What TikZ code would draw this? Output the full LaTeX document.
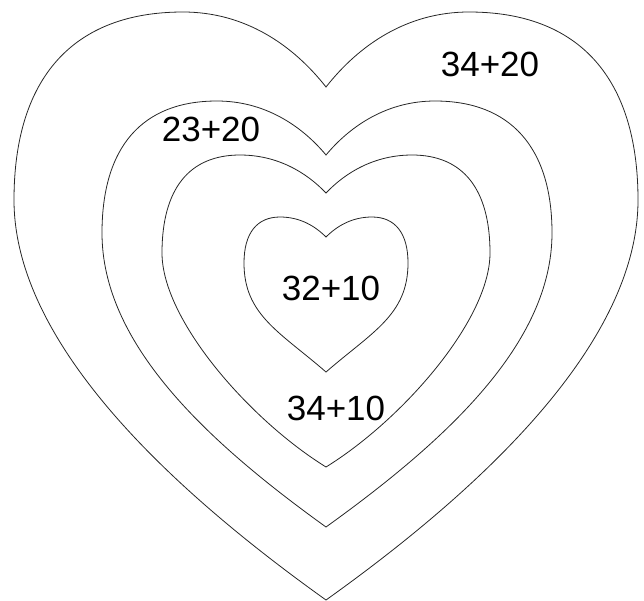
\documentclass[tikz,border=0pt]{standalone}
\usepackage{fontspec}
\setmainfont{Liberation Sans}
\usetikzlibrary{positioning}

\begin{document}
\begin{tikzpicture}[
			x=1pt, y=-1pt,
			heart/.style={draw=black!85, line width=0.8pt},
			sum/.style={font=\fontsize{35}{42}\selectfont, inner sep=0pt}
			]
			\useasboundingbox (0,0) rectangle (644,600);
			
			% hearts, outside in
			\draw[heart] (326,87) .. controls (293,45) and (245,12) .. (183,12) .. controls (73,12) and (14,78) .. (14,200) .. controls (14,350) and (186,500) .. (326,600) .. controls (466,500) and (638,350) .. (638,200) .. controls (638,78) and (579,12) .. (469,12) .. controls (407,12) and (359,45) .. (326,87) -- cycle;
			\draw[heart] (326,155) .. controls (301,125) and (264,101) .. (217,101) .. controls (142,101) and (102,147) .. (102,233) .. controls (102,343) and (205,440) .. (326,527) .. controls (447,440) and (552,343) .. (552,233) .. controls (552,147) and (510,101) .. (435,101) .. controls (388,101) and (351,125) .. (326,155) -- cycle;
			\draw[heart] (326,193) .. controls (306,172) and (277,155) .. (240,155) .. controls (189,155) and (162,189) .. (162,253) .. controls (162,320) and (250,420) .. (326,467) .. controls (402,420) and (490,320) .. (490,253) .. controls (490,189) and (463,155) .. (412,155) .. controls (375,155) and (346,172) .. (326,193) -- cycle;
			\draw[heart] (326,237) .. controls (315,226) and (300,217) .. (280,217) .. controls (257,217) and (244,233) .. (244,263) .. controls (244,315) and (280,332) .. (326,372) .. controls (372,332) and (408,315) .. (408,263) .. controls (408,233) and (395,217) .. (372,217) .. controls (352,217) and (337,226) .. (326,237) -- cycle;
			
			\node[sum] (outer) at (490,64) {34+20};
			\node[sum] (second) at (211,129) {23+20};
			\node[sum] (inner) at (331,288) {32+10};
			\node[sum] (third) at (336,408) {34+10};
		\end{tikzpicture}
\end{document}
